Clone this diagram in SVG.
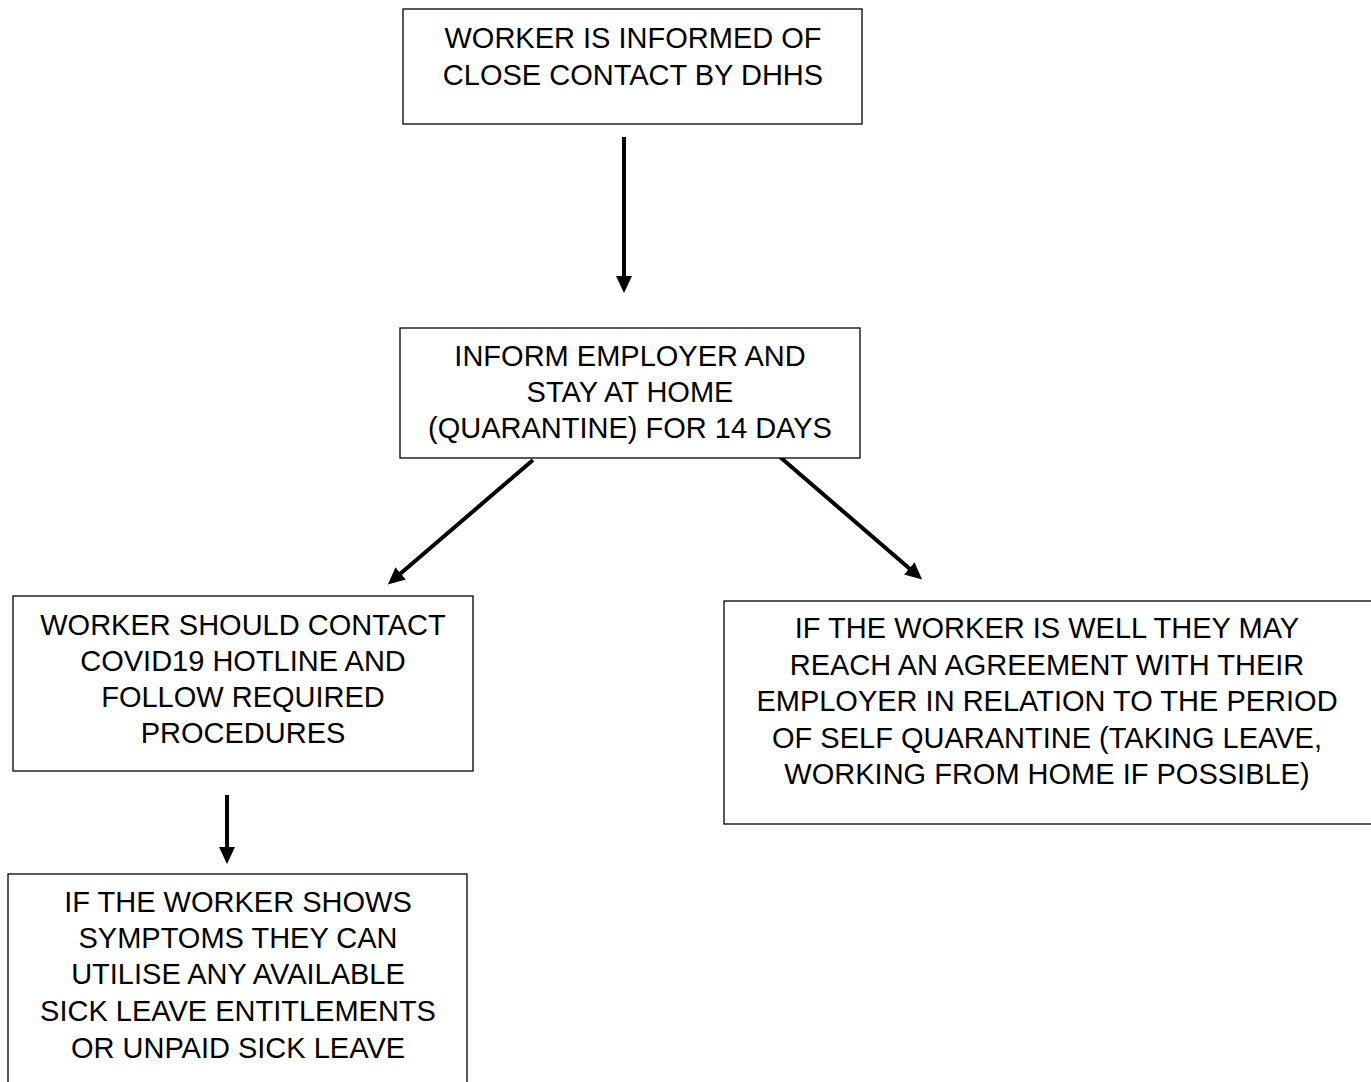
<svg xmlns="http://www.w3.org/2000/svg" width="1371" height="1082" viewBox="0 0 1371 1082">
<style>
.box{fill:#fff;stroke:#000;stroke-width:1.3}
.t{font-family:"Liberation Sans",Arial,sans-serif;font-size:29px;fill:#000;text-anchor:middle}
.c{stroke:#000;stroke-width:4;fill:none;marker-end:url(#ah)}
</style>
<defs>
<marker id="ah" markerUnits="userSpaceOnUse" markerWidth="17" markerHeight="16" refX="1" refY="8" orient="auto" viewBox="0 0 17 16">
<path d="M0,0 L17,8 L0,16 z" fill="#000"/>
</marker>
</defs>
<rect width="1371" height="1082" fill="#fff"/>
<g id="connectors">
<line class="c" x1="624" y1="137" x2="624" y2="277"/>
<line class="c" x1="533" y1="460" x2="400" y2="574"/>
<line class="c" x1="780" y1="457" x2="910" y2="569"/>
<line class="c" x1="227" y1="795" x2="227" y2="848"/>
</g>
<g id="n1">
<rect class="box" x="403" y="9" width="459" height="115"/>
<text class="t" x="633" y="48">WORKER IS INFORMED OF</text>
<text class="t" x="633" y="85">CLOSE CONTACT BY DHHS</text>
</g>
<g id="n2">
<rect class="box" x="400" y="328" width="460" height="130"/>
<text class="t" x="630" y="366">INFORM EMPLOYER AND</text>
<text class="t" x="630" y="402">STAY AT HOME</text>
<text class="t" x="630" y="438">(QUARANTINE) FOR 14 DAYS</text>
</g>
<g id="n3">
<rect class="box" x="13" y="596" width="460" height="175"/>
<text class="t" x="243" y="635">WORKER SHOULD CONTACT</text>
<text class="t" x="243" y="671">COVID19 HOTLINE AND</text>
<text class="t" x="243" y="707">FOLLOW REQUIRED</text>
<text class="t" x="243" y="743">PROCEDURES</text>
</g>
<g id="n4">
<rect class="box" x="8" y="874" width="459" height="220"/>
<text class="t" x="238" y="912">IF THE WORKER SHOWS</text>
<text class="t" x="238" y="948">SYMPTOMS THEY CAN</text>
<text class="t" x="238" y="984">UTILISE ANY AVAILABLE</text>
<text class="t" x="238" y="1021">SICK LEAVE ENTITLEMENTS</text>
<text class="t" x="238" y="1058">OR UNPAID SICK LEAVE</text>
</g>
<g id="n5">
<rect class="box" x="724" y="601" width="652" height="223"/>
<text class="t" x="1047" y="638">IF THE WORKER IS WELL THEY MAY</text>
<text class="t" x="1047" y="675">REACH AN AGREEMENT WITH THEIR</text>
<text class="t" x="1047" y="711">EMPLOYER IN RELATION TO THE PERIOD</text>
<text class="t" x="1047" y="748">OF SELF QUARANTINE (TAKING LEAVE,</text>
<text class="t" x="1047" y="784">WORKING FROM HOME IF POSSIBLE)</text>
</g>
</svg>
